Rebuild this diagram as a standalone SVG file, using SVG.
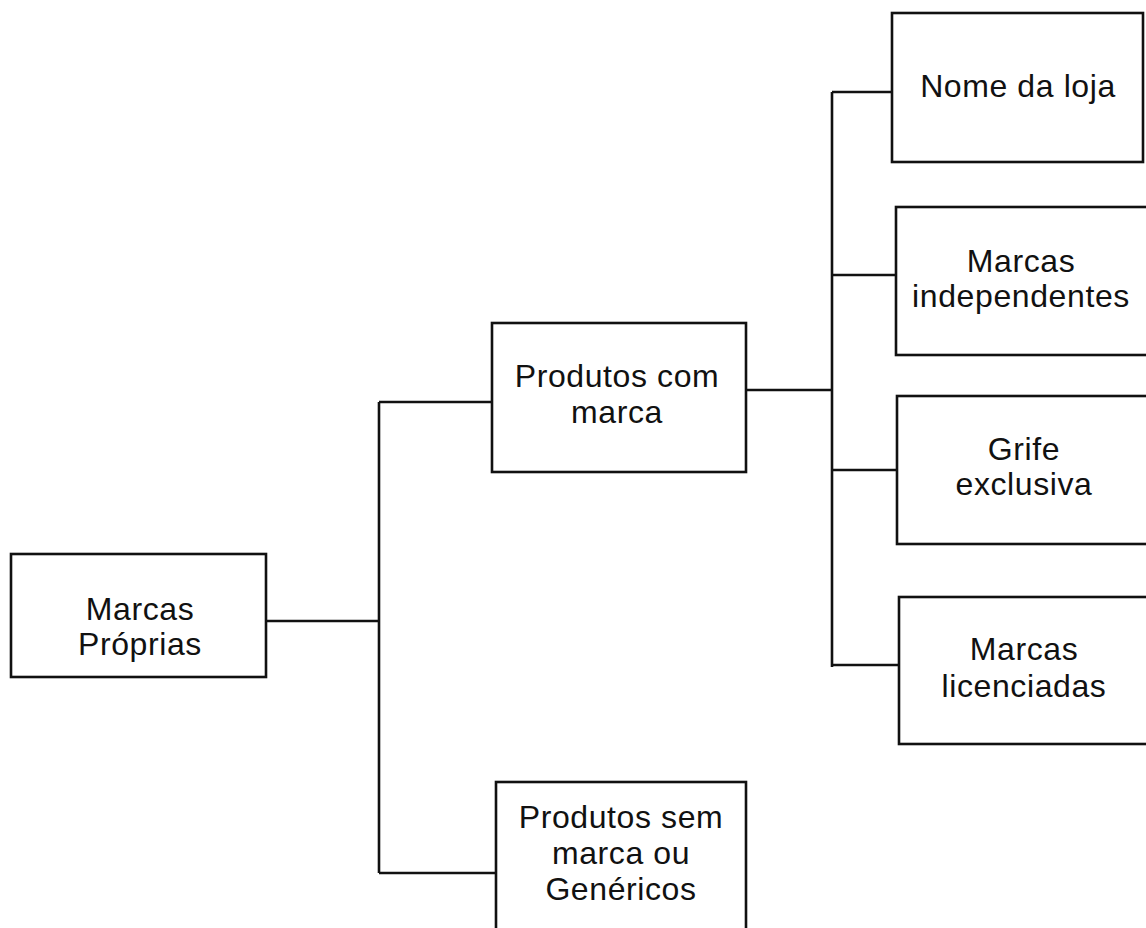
<svg xmlns="http://www.w3.org/2000/svg" width="1146" height="928" viewBox="0 0 1146 928">
<style>
.box{fill:#fff;stroke:#111;stroke-width:2.6}
.c{fill:none;stroke:#111;stroke-width:2.6}
text{font-family:"Liberation Sans",Arial,sans-serif;font-size:32px;letter-spacing:0.6px;fill:#111;text-anchor:middle}
</style>
<rect width="1146" height="928" fill="#fff"/>
<g id="connectors">
<path class="c" d="M266 621H379M379 402V873M379 402H492M379 873H496"/>
<path class="c" d="M746 390H832M832 92V667M832 92H892M832 275H896M832 470H897M832 665H899"/>
</g>
<g id="marcas-proprias">
<rect class="box" x="11" y="554" width="255" height="123"/>
<text x="140" y="620">Marcas</text>
<text x="140" y="655">Próprias</text>
</g>
<g id="produtos-com-marca">
<rect class="box" x="492" y="323" width="254" height="149"/>
<text x="617" y="387">Produtos com</text>
<text x="617" y="423">marca</text>
</g>
<g id="produtos-sem-marca">
<rect class="box" x="496" y="782" width="250" height="160"/>
<text x="621" y="828">Produtos sem</text>
<text x="621" y="864">marca ou</text>
<text x="621" y="900">Genéricos</text>
</g>
<g id="nome-da-loja">
<rect class="box" x="892" y="13" width="251" height="149"/>
<text x="1018" y="97">Nome da loja</text>
</g>
<g id="marcas-independentes">
<rect class="box" x="896" y="207" width="252" height="148"/>
<text x="1021" y="272">Marcas</text>
<text x="1021" y="307">independentes</text>
</g>
<g id="grife-exclusiva">
<rect class="box" x="897" y="396" width="252" height="148"/>
<text x="1024" y="460">Grife</text>
<text x="1024" y="495">exclusiva</text>
</g>
<g id="marcas-licenciadas">
<rect class="box" x="899" y="597" width="252" height="147"/>
<text x="1024" y="660">Marcas</text>
<text x="1024" y="697">licenciadas</text>
</g>
</svg>
